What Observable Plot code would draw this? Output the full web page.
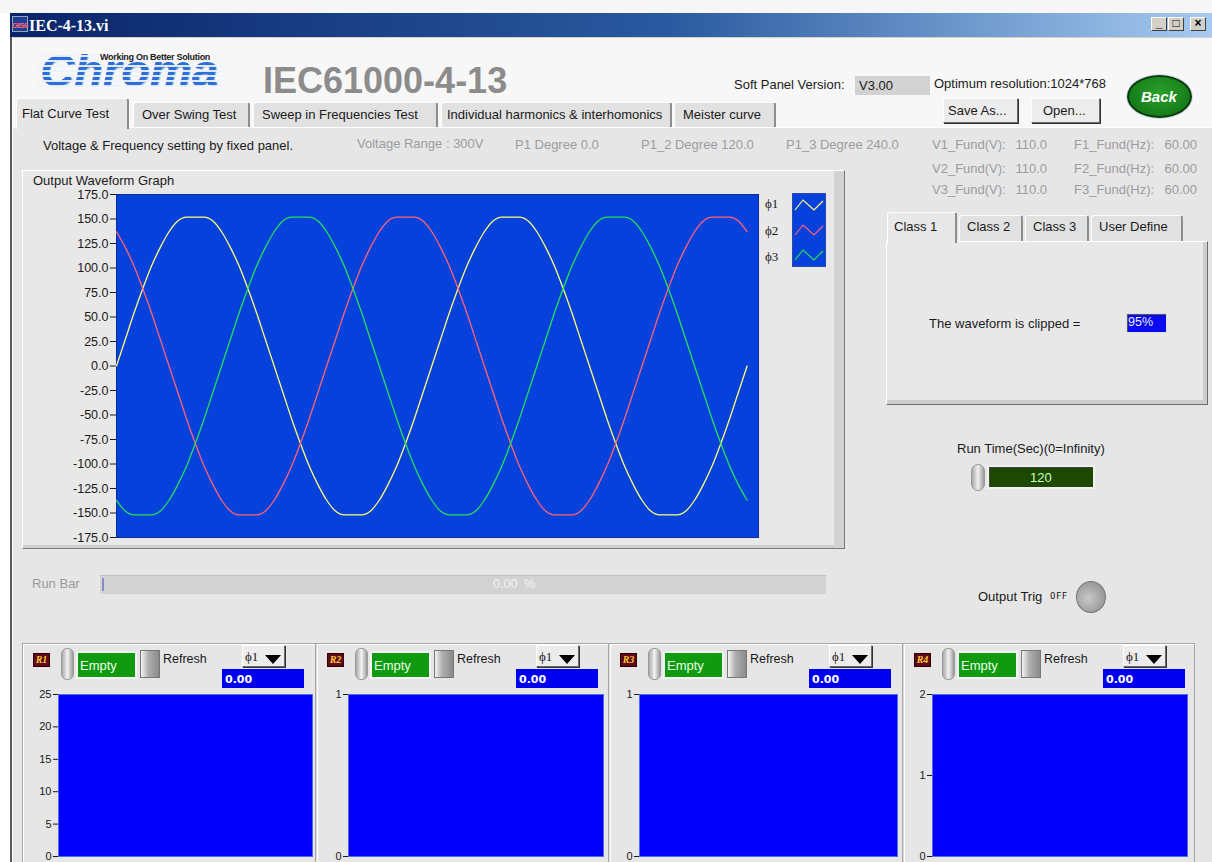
<!DOCTYPE html>
<html><head><meta charset="utf-8">
<script src="https://cdn.jsdelivr.net/npm/d3@7"></script>
<script src="https://cdn.jsdelivr.net/npm/@observablehq/plot@0.6"></script>
<style>
html,body{margin:0;padding:0}
body{width:1212px;height:862px;overflow:hidden;position:relative;background:#fff;font-family:"Liberation Sans",Arial,sans-serif;font-size:13px;color:#151515}
.a{position:absolute;white-space:nowrap;box-sizing:border-box}
.raised{background:#ececec;border:1px solid #fff;border-right-color:#6a6a6a;border-bottom-color:#6a6a6a;box-shadow:1px 1px 0 #333}
.tab{background:#e1e1e1;border-top:1px solid #fdfdfd;border-left:1px solid #fdfdfd;border-right:2px solid #8d8d8d;border-radius:3px 3px 0 0}
svg{overflow:visible}
</style></head><body>
<script>
// ---------------- data ----------------
const phases = ["ϕ1", "ϕ2", "ϕ3"];
const phaseColors = ["#ffff72", "#ff6472", "#22e05a"];
const degrees = [0,10,20,30,40,50,60,70,80,90,100,110,120,130,140,150,160,170,180,190,200,210,220,230,240,250,260,270,280,290,300,310,320,330,340,350,360,370,380,390,400,410,420,430,440,450,460,470,480,490,500,510,520,530,540,550,560,570,580,590,600,610,620,630,640,650,660,670,680,690,700,710,720];
const phi1 = [0,27,54,79,102,121,137,148,152,152,152,148,137,121,102,79,54,27,0,-27,-54,-79,-102,-121,-137,-148,-152,-152,-152,-148,-137,-121,-102,-79,-54,-27,0,27,54,79,102,121,137,148,152,152,152,148,137,121,102,79,54,27,0,-27,-54,-79,-102,-121,-137,-148,-152,-152,-152,-148,-137,-121,-102,-79,-54,-27,0];
const phi2 = [137,121,102,79,54,27,0,-27,-54,-79,-102,-121,-137,-148,-152,-152,-152,-148,-137,-121,-102,-79,-54,-27,0,27,54,79,102,121,137,148,152,152,152,148,137,121,102,79,54,27,0,-27,-54,-79,-102,-121,-137,-148,-152,-152,-152,-148,-137,-121,-102,-79,-54,-27,0,27,54,79,102,121,137,148,152,152,152,148,137];
const phi3 = [-137,-148,-152,-152,-152,-148,-137,-121,-102,-79,-54,-27,0,27,54,79,102,121,137,148,152,152,152,148,137,121,102,79,54,27,0,-27,-54,-79,-102,-121,-137,-148,-152,-152,-152,-148,-137,-121,-102,-79,-54,-27,0,27,54,79,102,121,137,148,152,152,152,148,137,121,102,79,54,27,0,-27,-54,-79,-102,-121,-137];
const mainTicks = [-175,-150,-125,-100,-75,-50,-25,0,25,50,75,100,125,150,175];
const xDomain = [0, 733];
const smallNames = ["R1", "R2", "R3", "R4"];
const smallTicks = [[0,5,10,15,20,25], [0,1], [0,1], [0,1,2]];
const tabNames = ["Flat Curve Test", "Over Swing Test", "Sweep in Frequencies Test", "Individual harmonics & interhomonics", "Meister curve"];
const classTabs = ["Class 1", "Class 2", "Class 3", "User Define"];
const fundV = ["110.0", "110.0", "110.0"];
const fundF = ["60.00", "60.00", "60.00"];

// ---------------- helpers ----------------
function box(x, y, w, h, style, text) {
  const d = document.createElement("div");
  d.className = "a";
  d.style.cssText = `left:${x}px;top:${y}px;width:${w}px;height:${h}px;${style || ""}`;
  if (text != null) d.textContent = text;
  document.body.appendChild(d);
  return d;
}
function txt(s, x, base, size = 13, color = "#151515", extra = "", parent = document.body) {
  const d = document.createElement("div");
  d.className = "a";
  d.style.cssText = `left:${x}px;top:${(base - 0.8465 * size).toFixed(1)}px;font-size:${size}px;line-height:${size}px;color:${color};${extra}`;
  d.textContent = s;
  parent.appendChild(d);
  return d;
}

// ---------------- window chrome ----------------
box(0, 0, 1212, 13, "background:#f6f6f6");
box(10, 13, 1202, 24, "background:linear-gradient(to right,#0a246a 0%,#2a5aa0 55%,#a6caf0 100%)");
box(12, 16, 16, 16, "background:#203c9a;border:1px solid #8aa");
txt("GIS6", 12, 29, 8, "#ff6a6a", "font-weight:bold;letter-spacing:-0.6px");
txt("IEC-4-13.vi", 29, 31, 16, "#ffffff", "font-family:'Liberation Serif';font-weight:bold");
["_", "□", "×"].forEach((g, i) => {
  box([1151, 1168, 1190][i], 17, 16, 14, "background:#d4d0c8;border:1px solid #fff;border-right-color:#404040;border-bottom-color:#404040;font-size:12px;line-height:11px;text-align:center;color:#000;font-weight:bold", g);
});
box(10, 37, 1202, 90, "background:#f7f7f7;border-top:1px solid #d4d0c8");
box(13, 127, 1199, 735, "background:#e6e6e6;border-top:1px solid #ffffff");
box(10, 37, 2, 825, "background:#5a5a5a");
box(12, 37, 1, 825, "background:#ffffff");

// ---------------- header ----------------
// logo: compact line box (glyphs overflow visibly), light stripes laid over it
const logoSize = 44, logoBase = 86, logoLH = 16;
const logoTop = logoBase - ((logoLH - 1.117 * logoSize) / 2 + 0.905 * logoSize);
box(40, logoTop, 200, logoLH, `font-size:${logoSize}px;line-height:${logoLH}px;font-weight:bold;font-style:italic;color:#2c6fda;text-shadow:1px 1px 0 #a9b9d2;transform:scaleX(1.07);transform-origin:left center`, "Chroma");
for (let y = 55; y <= 88; y += 5) {
  const x0 = 38, x1 = y < 65 ? 100 : 224;
  box(x0, y, x1 - x0, 1.6, "background:rgba(236,243,253,0.92)");
}
txt("Working On Better Solution", 100, 61, 9, "#1a1a1a", "font-weight:bold;letter-spacing:-0.3px");
txt("IEC61000-4-13", 263, 93, 36, "#8c8c8c", "font-weight:bold");
txt("Soft Panel Version:", 734, 89, 13, "#1a1a1a");
box(855, 76, 75, 19, "background:#d2d2d2");
txt("V3.00", 859, 90, 13, "#1a1a1a");
txt("Optimum resolution:1024*768", 934, 88, 13, "#1a1a1a");
box(943, 98, 75, 25, "", null).className = "a raised";
txt("Save As...", 948, 115, 13, "#1a1a1a");
box(1031, 98, 69, 25, "", null).className = "a raised";
txt("Open...", 1043, 115, 13, "#1a1a1a");
box(1127, 75, 65, 43, "border-radius:50%;background:radial-gradient(ellipse at 50% 40%,#2aa02a,#0e6e12);border:2px solid #0a3a0a;box-shadow:0 0 0 1px #cde");
txt("Back", 1141, 102, 15, "#ffffff", "font-weight:bold;font-style:italic");

// ---------------- tabs ----------------
const tabPos = [[16, 129], [133, 250], [253, 438], [441, 672], [674, 776]];
tabNames.forEach((t, i) => {
  const [x0, x1] = tabPos[i];
  if (i === 0) {
    box(x0, 98, x1 - x0, 31, "background:#e6e6e6;border-top:1px solid #fff;border-left:1px solid #fff;border-right:2px solid #8d8d8d;border-radius:3px 3px 0 0");
    txt(t, x0 + 6, 118, 13, "#1a1a1a");
  } else {
    box(x0, 102, x1 - x0, 25, "", null).className = "a tab";
    txt(t, x0 + (i === 3 ? 6 : 9), 119, 13, "#1a1a1a");
  }
});

// ---------------- info row ----------------
txt("Voltage & Frequency setting by fixed panel.", 43, 150, 13, "#1a1a1a");
const g = "#9c9c9c";
txt("Voltage Range : 300V", 357, 148, 13, g);
txt("P1 Degree  0.0", 515, 149, 13, g);
txt("P1_2 Degree  120.0", 641, 149, 13, g);
txt("P1_3 Degree  240.0", 786, 149, 13, g);
[149, 173, 194].forEach((b, i) => {
  txt(`V${i + 1}_Fund(V):`, 932, b, 13, g);
  txt(fundV[i], 1047, b, 13, g, "transform:translateX(-100%)");
  txt(`F${i + 1}_Fund(Hz):`, 1074, b, 13, g);
  txt(fundF[i], 1197, b, 13, g, "transform:translateX(-100%)");
});

// ---------------- main graph panel ----------------
box(22, 170, 823, 379, "background:#e8e8e8;border-top:1px solid #fff;border-left:1px solid #fff;border-right:1px solid #7a7a7a;border-bottom:1px solid #7a7a7a;box-shadow:inset -10px 0 0 #d2d2d2,inset 0 -3px 0 #cfcfcf");
txt("Output Waveform Graph", 33, 185, 13, "#1a1a1a");

const rows = [];
[phi1, phi2, phi3].forEach((arr, k) => arr.forEach((v, i) => rows.push({deg: degrees[i], v, phase: phases[k]})));

const mL = 90, mT = 8, mB = 8, mR = 0;
const pw = 642, ph = 343;
const mainPlot = Plot.plot({
  width: mL + pw + mR, height: mT + ph + mB,
  marginLeft: mL, marginTop: mT, marginBottom: mB, marginRight: mR,
  style: {background: "transparent", fontFamily: "Liberation Sans", fontSize: "12.5px", color: "#1a1a1a", overflow: "visible"},
  x: {domain: xDomain, axis: null},
  y: {domain: [-175, 175], ticks: mainTicks, tickFormat: d => d.toFixed(1), tickSize: 6, tickPadding: 2, label: null},
  color: {domain: phases, range: phaseColors},
  marks: [
    Plot.frame({fill: "#0641dc", stroke: "#0a2c9c"}),
    Plot.line(rows, {x: "deg", y: "v", z: "phase", stroke: "phase", strokeWidth: 1.3, curve: "monotone-x"})
  ]
});
const mp = box(116 - mL, 194 - mT, mL + pw + mR, mT + ph + mB, "");
mp.appendChild(mainPlot);

// legend
phases.forEach((p, i) => txt(p, 765, 208 + i * 26.5, 13, "#1a1a1a", "font-family:'Liberation Serif'"));
const leg = box(792, 193, 34, 74, "background:#0641dc;border:1px solid #2a4ab0");
leg.innerHTML = `<svg width="32" height="72">${phaseColors.map((c, i) =>
  `<polyline points="2,${16 + i * 25} 10,${6 + i * 25} 21,${16 + i * 25} 30,${7 + i * 25}" fill="none" stroke="${c}" stroke-width="1.2"/>`).join("")}</svg>`;

// ---------------- class panel ----------------
box(886, 241, 322, 164, "background:#e8e8e8;border-top:1px solid #fff;border-left:1px solid #fff;border-right:1px solid #6a6a6a;border-bottom:1px solid #6a6a6a;box-shadow:inset -4px -4px 0 #cdcdcd");
const ctPos = [[887, 957], [959, 1023], [1025, 1089], [1091, 1183]];
classTabs.forEach((t, i) => {
  const [x0, x1] = ctPos[i];
  if (i === 0) {
    box(x0, 212, x1 - x0, 31, "background:#e8e8e8;border-top:1px solid #fff;border-left:1px solid #fff;border-right:2px solid #8d8d8d;border-radius:3px 3px 0 0");
    txt(t, x0 + 7, 231, 13, "#1a1a1a");
  } else {
    box(x0, 215, x1 - x0, 26, "", null).className = "a tab";
    txt(t, x0 + 8, 231, 13, "#1a1a1a");
  }
});
txt("The waveform is clipped =", 929, 328, 13, "#1a1a1a");
box(1126, 313, 41, 20, "background:#0a0af0;border:1px solid #e0e0e0;box-shadow:inset 1px 1px 0 #556");
txt("95%", 1128, 327, 12.5, "#e8e8ff");

// ---------------- run time ----------------
txt("Run Time(Sec)(0=Infinity)", 957, 453, 13, "#1a1a1a");
box(971, 464, 14, 27, "background:linear-gradient(to right,#aaa,#f0f0f0,#999);border-radius:7px;border:1px solid #999");
box(987, 465, 108, 24, "background:#1e4800;border:2px solid #f0f0f0;box-shadow:inset 1px 1px 0 #444");
txt("120", 1030, 482, 13, "#c8ffc0");

// ---------------- run bar ----------------
txt("Run Bar", 32, 588, 13, "#9a9a9a");
box(100, 575, 726, 19, "background:#d2d2d2;border-top:1px solid #c0c0c0");
box(102, 578, 2, 13, "background:#8090c8");
txt("0.00  %", 493, 589, 12.5, "#f2f2f2", "white-space:pre");

// ---------------- output trig ----------------
txt("Output Trig", 978, 601, 13, "#1a1a1a");
txt("OFF", 1050, 600, 9, "#1a1a1a", "font-family:'DejaVu Sans Mono';letter-spacing:0.5px");
box(1076, 581, 30, 32, "border-radius:50%;background:radial-gradient(circle at 40% 55%,#c8c8c8,#9a9a9a 70%,#6a6a6a);border:1px solid #777");

// ---------------- bottom panels ----------------
box(22, 643, 1173, 219, "border-top:1px solid #a8a8a8;border-left:1px solid #a8a8a8;border-right:1px solid #a8a8a8;box-shadow:inset 1px 1px 0 #fff");
const panelL = [22, 316, 609, 903];
const plotL = [58, 348, 639, 932];
const plotR = [312, 603, 897, 1187];
[316, 609, 903].forEach(x => box(x - 1, 644, 3, 218, "background:#d8d8d8;border-left:1px solid #a8a8a8;border-right:1px solid #fff"));

smallNames.forEach((name, i) => {
  const L = panelL[i];
  box(L + 11, 653, 17, 14, "background:#5e0c1c;border:1px solid #300;color:#ffc830;font:italic bold 10px 'Liberation Serif';line-height:12px;text-align:center", name);
  box(L + 39, 648, 13, 32, "background:linear-gradient(to right,#aaa,#f2f2f2,#9a9a9a);border-radius:6px;border:1px solid #999");
  box(L + 54, 651, 61, 28, "background:#f4f4f4");
  box(L + 56, 653, 57, 24, "background:#109a10");
  txt("Empty", L + 58, 670, 13, "#e8ffe8");
  box(L + 118, 650, 20, 28, "background:linear-gradient(to right,#f4f4f4,#b0b0b0 40%,#8a8a8a);border:1px solid #777");
  txt("Refresh", L + 141, 664, 12.5, "#1a1a1a");
  box(L + 220, 645, 43, 22, "", null).className = "a raised";
  txt("ϕ1", L + 223, 661, 13, "#1a1a1a", "font-family:'Liberation Serif'");
  const tri = box(L + 243, 652, 16, 9, "");
  tri.innerHTML = `<svg width="16" height="9"><polygon points="0,0 16,0 8,9" fill="#000"/></svg>`;
  box(L + 200, 669, 82, 19, "background:#0000f0");
  txt("0.00", L + 203, 683, 11, "#ffffff", "font-family:'DejaVu Sans';font-weight:bold");

  const w = plotR[i] - plotL[i], sm = 30;
  const sp = Plot.plot({
    width: sm + w, height: 6 + 162 + 6,
    marginLeft: sm, marginTop: 6, marginBottom: 6, marginRight: 0,
    style: {background: "transparent", fontFamily: "Liberation Sans", fontSize: "11px", color: "#1a1a1a", overflow: "visible"},
    x: {domain: [0, 1], axis: null},
    y: {domain: [0, smallTicks[i][smallTicks[i].length - 1]], ticks: smallTicks[i], tickFormat: d => String(d), tickSize: 5, tickPadding: 2, label: null},
    marks: [Plot.frame({fill: "#0000fa", stroke: "#4a6af0"})]
  });
  const holder = box(plotL[i] - sm, 688, sm + w, 174, "");
  holder.appendChild(sp);
});
</script>
</body></html>
